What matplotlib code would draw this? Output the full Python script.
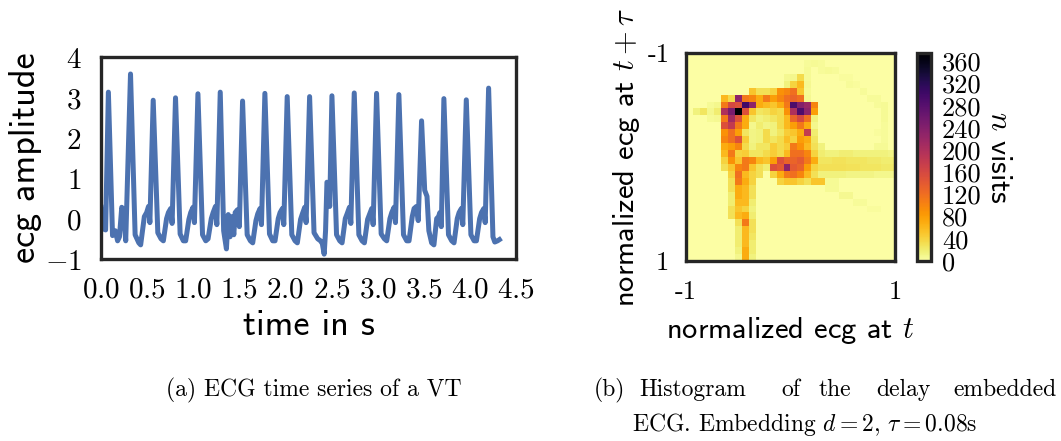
import matplotlib
matplotlib.use("Agg")
import matplotlib.pyplot as plt
import numpy as np

plt.rcParams["mathtext.fontset"] = "cm"
plt.rcParams["axes.unicode_minus"] = False

# ---- ECG trace (time in s, amplitude) ----
ECG_T = [
    0.00, 0.02, 0.05, 0.08,
    0.125, 0.155, 0.18, 0.20, 0.225, 0.245, 0.268, 0.32,
    0.37, 0.41, 0.43, 0.47, 0.495, 0.515, 0.53, 0.566,
    0.616, 0.651, 0.676, 0.711, 0.731, 0.756, 0.771, 0.808,
    0.858, 0.893, 0.918, 0.953, 0.973, 0.998, 1.013, 1.051,
    1.101, 1.136, 1.161, 1.196, 1.216, 1.241, 1.256, 1.293,
    1.33, 1.36, 1.38, 1.40, 1.42, 1.44, 1.455, 1.48, 1.50, 1.535,
    1.585, 1.62, 1.645, 1.68, 1.70, 1.725, 1.74, 1.777,
    1.827, 1.862, 1.887, 1.922, 1.942, 1.967, 1.982, 2.019,
    2.069, 2.104, 2.129, 2.164, 2.184, 2.209, 2.224, 2.262,
    2.31, 2.35, 2.38, 2.40, 2.42, 2.435, 2.45, 2.47, 2.48, 2.504,
    2.554, 2.589, 2.614, 2.649, 2.669, 2.694, 2.709, 2.746,
    2.796, 2.831, 2.856, 2.891, 2.911, 2.936, 2.951, 2.988,
    3.038, 3.073, 3.098, 3.133, 3.153, 3.178, 3.193, 3.230,
    3.28, 3.315, 3.34, 3.375, 3.395, 3.42, 3.44, 3.476,
    3.51, 3.535, 3.555, 3.585, 3.61, 3.64, 3.66, 3.675, 3.69, 3.718,
    3.768, 3.803, 3.828, 3.863, 3.883, 3.908, 3.923, 3.961,
    4.011, 4.046, 4.071, 4.106, 4.126, 4.151, 4.166, 4.203,
    4.25, 4.27, 4.30, 4.32,
]
ECG_V = [
    0.28, -0.25, -0.28, 3.13,
    -0.42, -0.30, -0.55, -0.45, 0.28, 0.20, -0.55, 3.58,
    -0.40, -0.60, -0.65, 0.05, 0.15, 0.30, -0.10, 2.93,
    -0.35, -0.50, -0.55, 0.00, 0.15, 0.25, -0.12, 2.99,
    -0.38, -0.55, -0.55, -0.02, 0.15, 0.28, -0.10, 3.09,
    -0.40, -0.55, -0.50, 0.00, 0.15, 0.30, -0.15, 3.13,
    -0.30, -0.75, 0.10, -0.45, 0.05, -0.40, 0.15, 0.22, -0.20, 2.91,
    -0.40, -0.55, -0.60, -0.05, 0.12, 0.25, -0.15, 3.10,
    -0.38, -0.55, -0.55, 0.00, 0.15, 0.25, -0.15, 3.02,
    -0.40, -0.55, -0.60, -0.02, 0.12, 0.28, -0.10, 3.02,
    -0.35, -0.50, -0.55, -0.62, -0.88, -0.30, 0.90, 0.88, 0.30, 3.04,
    -0.40, -0.55, -0.60, 0.00, 0.12, 0.28, -0.12, 3.11,
    -0.40, -0.55, -0.60, -0.02, 0.10, 0.25, -0.15, 3.10,
    -0.38, -0.50, -0.55, 0.00, 0.15, 0.28, -0.10, 3.07,
    -0.40, -0.55, -0.55, 0.05, 0.25, 0.30, -0.05, 2.42,
    0.70, 0.55, -0.30, -0.60, -0.65, 0.00, 0.05, 0.15, -0.20, 2.97,
    -0.40, -0.55, -0.60, 0.00, 0.15, 0.25, -0.15, 2.94,
    -0.40, -0.55, -0.55, 0.00, 0.15, 0.25, -0.10, 3.23,
    -0.45, -0.58, -0.55, -0.52,
]
ECG_XTICKS = [0.0, 0.5, 1.0, 1.5, 2.0, 2.5, 3.0, 3.5, 4.0, 4.5]
ECG_YTICKS = [-1, 0, 1, 2, 3, 4]

# ---- 2D histogram of the delay embedding (30 x 30 bins, counts) ----
HIST_COUNTS = [
    [0] * 30,
    [0, 0, 0, 0, 0, 0, 0, 0, 0, 0, 0, 0, 0, 0, 0, 0, 0, 5, 6, 5, 0, 0, 0, 0, 0, 0, 0, 0, 0, 0],
    [0, 0, 0, 0, 0, 0, 0, 0, 0, 0, 0, 0, 0, 0, 0, 0, 0, 6, 0, 5, 6, 5, 0, 0, 0, 0, 0, 0, 0, 0],
    [0, 0, 0, 0, 0, 0, 0, 0, 0, 0, 0, 0, 0, 0, 8, 10, 35, 6, 0, 0, 0, 0, 4, 4, 0, 0, 0, 0, 0, 0],
    [0, 0, 0, 0, 0, 0, 0, 0, 0, 0, 0, 0, 0, 0, 15, 40, 60, 8, 0, 0, 0, 0, 0, 5, 4, 0, 0, 0, 0, 0],
    [0, 0, 0, 0, 0, 0, 0, 0, 0, 50, 30, 30, 40, 90, 100, 120, 50, 6, 0, 0, 0, 0, 0, 0, 0, 5, 0, 0, 0, 0],
    [0, 0, 0, 0, 0, 60, 35, 230, 110, 100, 70, 110, 80, 100, 120, 130, 120, 8, 0, 0, 0, 0, 0, 0, 0, 0, 5, 5, 0, 0],
    [0, 0, 0, 6, 10, 110, 160, 150, 300, 230, 70, 60, 50, 70, 110, 290, 240, 220, 100, 0, 0, 0, 0, 0, 0, 0, 0, 5, 6, 0],
    [0, 15, 25, 10, 20, 200, 250, 375, 150, 50, 25, 30, 40, 35, 90, 200, 290, 230, 80, 0, 0, 0, 0, 0, 0, 0, 0, 0, 6, 0],
    [0, 0, 0, 6, 8, 110, 210, 150, 70, 25, 15, 20, 25, 35, 60, 130, 160, 120, 15, 0, 0, 0, 0, 0, 0, 0, 0, 0, 6, 0],
    [0, 0, 0, 0, 0, 150, 180, 110, 70, 10, 20, 12, 15, 35, 60, 80, 110, 70, 10, 0, 0, 0, 0, 0, 0, 0, 0, 0, 5, 0],
    [0, 0, 0, 0, 0, 90, 120, 80, 25, 12, 15, 35, 15, 25, 45, 50, 70, 180, 20, 0, 0, 0, 0, 0, 0, 0, 0, 4, 5, 0],
    [0, 0, 0, 0, 0, 100, 120, 150, 45, 12, 15, 35, 25, 35, 55, 40, 80, 70, 25, 0, 0, 0, 0, 0, 0, 0, 0, 0, 5, 0],
    [0, 0, 0, 0, 0, 70, 80, 100, 35, 15, 25, 25, 45, 35, 45, 110, 90, 60, 30, 15, 0, 0, 0, 0, 0, 0, 0, 6, 6, 0],
    [0, 0, 0, 0, 0, 60, 110, 40, 45, 25, 25, 35, 45, 35, 60, 120, 120, 100, 40, 20, 15, 15, 18, 18, 15, 15, 15, 15, 15, 12],
    [0, 0, 0, 0, 0, 40, 90, 50, 110, 100, 60, 50, 80, 150, 130, 130, 140, 110, 70, 25, 25, 28, 28, 25, 25, 25, 22, 22, 20, 20],
    [0, 0, 0, 0, 0, 30, 50, 100, 110, 50, 30, 20, 150, 140, 230, 140, 130, 80, 40, 30, 30, 30, 30, 28, 28, 25, 25, 25, 22, 22],
    [0, 0, 0, 0, 0, 0, 40, 120, 60, 40, 30, 0, 40, 70, 110, 120, 100, 60, 30, 15, 15, 15, 15, 12, 12, 12, 12, 10, 10, 10],
    [0, 0, 0, 0, 0, 0, 30, 110, 70, 40, 0, 0, 0, 40, 50, 50, 40, 30, 50, 50, 6, 6, 0, 0, 0, 0, 0, 0, 0, 0],
    [0, 0, 0, 0, 0, 0, 30, 70, 60, 30, 0, 0, 0, 0, 0, 0, 0, 0, 0, 0, 6, 6, 0, 0, 0, 0, 0, 0, 0, 0],
    [0, 0, 0, 0, 0, 0, 20, 70, 60, 30, 0, 0, 0, 0, 0, 0, 0, 0, 0, 0, 0, 0, 8, 8, 0, 0, 0, 0, 0, 0],
    [0, 0, 0, 0, 0, 0, 20, 60, 60, 20, 0, 0, 0, 0, 0, 0, 0, 0, 0, 0, 0, 0, 0, 0, 5, 5, 0, 0, 0, 0],
    [0, 0, 0, 0, 0, 0, 30, 50, 40, 15, 0, 0, 0, 0, 0, 0, 0, 0, 0, 0, 0, 0, 0, 0, 0, 0, 4, 4, 0, 0],
    [0, 0, 0, 0, 0, 0, 30, 60, 70, 20, 0, 0, 0, 0, 0, 0, 0, 0, 0, 0, 0, 0, 0, 0, 0, 0, 0, 0, 0, 0],
    [0, 0, 0, 0, 0, 0, 0, 30, 110, 30, 0, 0, 0, 0, 0, 0, 0, 0, 0, 0, 0, 0, 0, 0, 0, 0, 0, 0, 0, 0],
    [0, 0, 0, 0, 0, 0, 0, 20, 60, 30, 0, 0, 0, 0, 0, 0, 0, 0, 0, 0, 0, 0, 0, 0, 0, 0, 0, 0, 0, 0],
    [0, 0, 0, 0, 0, 0, 0, 20, 60, 25, 0, 0, 0, 0, 0, 0, 0, 0, 0, 0, 0, 0, 0, 0, 0, 0, 0, 0, 0, 0],
    [0, 0, 0, 0, 0, 0, 0, 20, 60, 20, 0, 0, 0, 0, 0, 0, 0, 0, 0, 0, 0, 0, 0, 0, 0, 0, 0, 0, 0, 0],
    [0, 0, 0, 0, 0, 0, 0, 15, 70, 20, 0, 0, 0, 0, 0, 0, 0, 0, 0, 0, 0, 0, 0, 0, 0, 0, 0, 0, 0, 0],
    [0, 0, 0, 0, 0, 0, 0, 10, 70, 15, 0, 0, 0, 0, 0, 0, 0, 0, 0, 0, 0, 0, 0, 0, 0, 0, 0, 0, 0, 0],
]
HIST_TICKS = [-1, 1]
HIST_TICKLABELS = ["-1", "1"]
CBAR_TICKS = [0, 40, 80, 120, 160, 200, 240, 280, 320, 360]

LINE_COLOR = "#4C72B0"
SPINE_COLOR = "#262626"
W, H = 1061, 441

fig = plt.figure(figsize=(W / 100, H / 100), dpi=100)


def px_axes(x0, y0, x1, y1):
    # axes placed from pixel coordinates (top-left origin)
    return fig.add_axes([x0 / W, 1 - y1 / H, (x1 - x0) / W, (y1 - y0) / H])


def style_frame(ax, lw=2.4):
    for s in ax.spines.values():
        s.set_color(SPINE_COLOR)
        s.set_linewidth(lw)
    ax.tick_params(length=0, pad=7)


# ---- (a) ECG time series ----
ax = px_axes(101, 57, 516, 259)
ax.plot(ECG_T, ECG_V, color=LINE_COLOR, lw=3.6, solid_joinstyle="round")
ax.set_xlim(0, 4.5)
ax.set_ylim(-1, 4)
ax.set_xticks(ECG_XTICKS)
ax.set_xticklabels([r"$%.1f$" % t for t in ECG_XTICKS], fontsize=21)
ax.set_yticks(ECG_YTICKS)
ax.set_yticklabels([r"$%d$" % v for v in ECG_YTICKS], fontsize=21)
style_frame(ax)
ax.tick_params(axis="x", pad=12)
ax.tick_params(axis="y", pad=14)
ax.set_xlabel("time in s", family="cmss10", fontsize=26, labelpad=4)
ax.set_ylabel("ecg amplitude", family="cmss10", fontsize=26, labelpad=2)

# ---- (b) delay embedding histogram ----
hist = np.array(HIST_COUNTS, dtype=float)
axh = px_axes(686, 53, 895, 261)
im = axh.imshow(hist, cmap="inferno_r", vmin=0, vmax=375,
                extent=[-1, 1, 1, -1], aspect="auto", interpolation="nearest")
axh.set_xticks(HIST_TICKS)
axh.set_xticklabels(HIST_TICKLABELS, family="cmr10", fontsize=19)
axh.set_yticks(HIST_TICKS)
axh.set_yticklabels(HIST_TICKLABELS, family="cmr10", fontsize=19)
style_frame(axh)
axh.tick_params(axis="x", pad=14)
axh.tick_params(axis="y", pad=12)
axh.set_xlabel(r"normalized ecg at $t$", family="cmss10", fontsize=22, labelpad=8)
axh.set_ylabel(r"normalized ecg at $t+\tau$", family="cmss10", fontsize=22, labelpad=4)

cax = px_axes(917, 53, 931, 261)
cb = fig.colorbar(im, cax=cax, ticks=CBAR_TICKS)
cb.outline.set_edgecolor(SPINE_COLOR)
cb.outline.set_linewidth(2.4)
cax.tick_params(length=0, pad=8)
cax.set_yticklabels([str(v) for v in CBAR_TICKS], family="cmr10", fontsize=19)
cb.set_label(r"$n$ visits", family="cmss10", fontsize=22, rotation=270, labelpad=22)

# ---- captions ----
CAP = dict(family="cmr10", fontsize=17, va="center")
fig.text(314 / W, 1 - 390 / H, "(a) ECG time series of a VT", ha="center", **CAP)
# first caption line of (b) is justified across the column
for word, x in [("(b)", 594), ("Histogram", 639), ("of", 781), ("the", 819),
                ("delay", 876)]:
    fig.text(x / W, 1 - 390 / H, word, ha="left", **CAP)
fig.text(1057 / W, 1 - 390 / H, "embedded", ha="right", **CAP)
fig.text(632 / W, 1 - 424 / H, r"ECG. Embedding $d = 2$, $\tau = 0.08$s",
         ha="left", **CAP)

fig.savefig("out.png", dpi=100)
